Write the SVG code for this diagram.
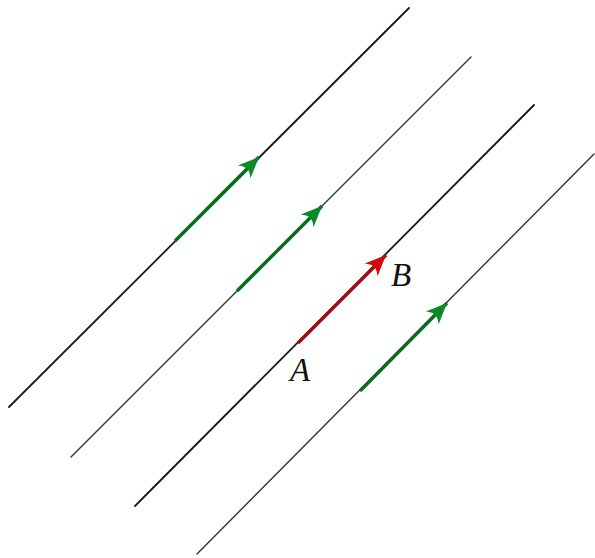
<svg xmlns="http://www.w3.org/2000/svg" width="595" height="558" viewBox="0 0 595 558">
<style>
.ln{stroke:#1a1a1a;stroke-width:1.8;stroke-linecap:round;fill:none}
.ln2{stroke:#333;stroke-width:1.4;stroke-linecap:round;fill:none}
.g{stroke:#0a6b1c;stroke-width:3.4;fill:none}
.r{stroke:#a80a0a;stroke-width:3.4;fill:none}
.lbl{font-family:"Liberation Serif",serif;font-style:italic;font-size:33px;fill:#111}
</style>
<defs>
<marker id="ag" viewBox="0 0 24 24" refX="22" refY="12" markerWidth="24" markerHeight="24" markerUnits="userSpaceOnUse" orient="auto">
<path d="M22,12 L1,3 Q7,10.5 4,12 Q7,13.5 1,21 Z" fill="#0a8a24"/>
</marker>
<marker id="ar" viewBox="0 0 24 24" refX="22" refY="12" markerWidth="24" markerHeight="24" markerUnits="userSpaceOnUse" orient="auto">
<path d="M22,12 L1,3 Q7,10.5 4,12 Q7,13.5 1,21 Z" fill="#d00a0a"/>
</marker>
</defs>
<g id="lines">
<line class="ln" x1="9" y1="407" x2="409" y2="8"/>
<line class="ln2" x1="71" y1="457" x2="471" y2="57"/>
<line class="ln" x1="135" y1="506" x2="534" y2="105"/>
<line class="ln2" x1="197" y1="554" x2="594" y2="154"/>
</g>
<g id="connectors">
<line class="g" x1="175" y1="241" x2="259" y2="157" marker-end="url(#ag)"/>
<line class="g" x1="237" y1="291" x2="322" y2="206" marker-end="url(#ag)"/>
<line class="r" x1="298" y1="343" x2="386" y2="255" marker-end="url(#ar)"/>
<line class="g" x1="360" y1="391" x2="447" y2="303" marker-end="url(#ag)"/>
</g>
<g id="labels">
<text class="lbl" x="290" y="381">A</text>
<text class="lbl" x="391" y="286">B</text>
</g>
</svg>
